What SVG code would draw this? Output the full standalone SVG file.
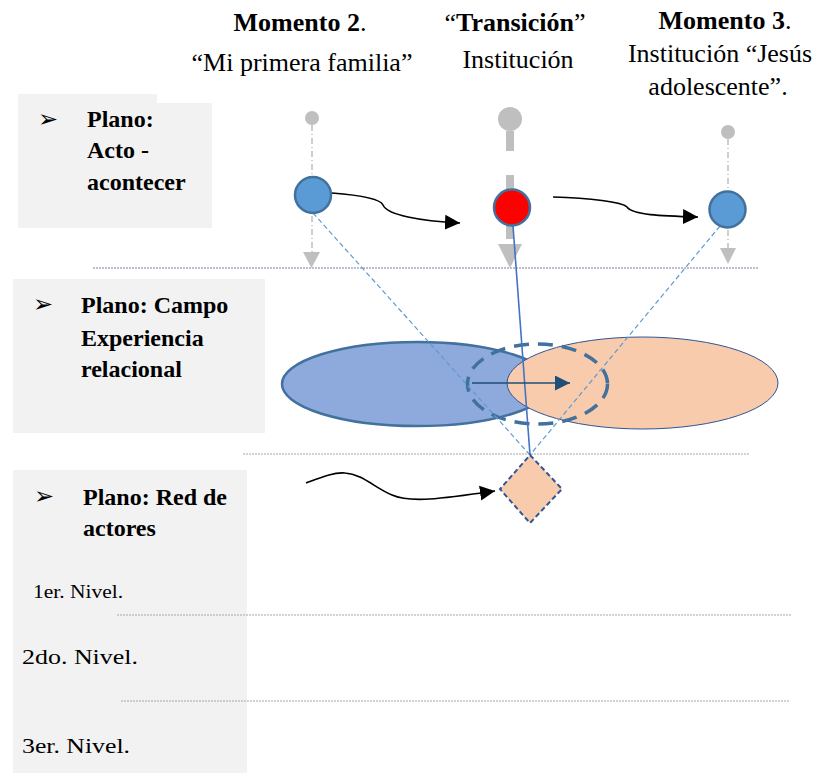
<svg xmlns="http://www.w3.org/2000/svg" width="818" height="775" viewBox="0 0 818 775">
<style>
.t{font-family:"Liberation Serif","Times New Roman",serif;fill:#000}
.b{font-weight:bold}
.title{font-size:26px;text-anchor:middle}
.lab{font-size:24px;font-weight:bold}
.bul{font-family:"DejaVu Sans",sans-serif;font-size:24px;fill:#000}
.box{fill:#F2F2F2}
.sep{stroke:#A6A6A6;stroke-width:1.2;stroke-dasharray:2,1;fill:none}
.gline{stroke:#BFBFBF;stroke-width:1.5;stroke-dasharray:6,3,1,3;fill:none}
.gfill{fill:#BFBFBF}
.node{fill:#5B9BD5;stroke:#41719C;stroke-width:2.5}
.curve{fill:none;stroke:#000;stroke-width:1.6}
.diag{fill:none;stroke:#5B9BD5;stroke-width:1.2;stroke-dasharray:5,3}
</style>
<defs>
<marker id="ah" viewBox="0 0 10 10" refX="10" refY="5" markerWidth="15" markerHeight="16" markerUnits="userSpaceOnUse" orient="auto">
<path d="M0,0 L10,5 L0,10 Z" fill="#000"/>
</marker>
<marker id="ahb" viewBox="0 0 10 10" refX="10" refY="5" markerWidth="16" markerHeight="15" markerUnits="userSpaceOnUse" orient="auto">
<path d="M0,0 L10,5 L0,10 Z" fill="#1F4E79"/>
</marker>
</defs>
<rect width="818" height="775" fill="#fff"/>

<g id="plane-boxes">
<path class="box" d="M18,94 H157 V103 H212 V228 H18 Z"/>
<rect class="box" x="13" y="279" width="252" height="154"/>
<rect class="box" x="13" y="470" width="234" height="303"/>
</g>

<g id="separators">
<line x1="93" y1="268" x2="758" y2="268" stroke="#7F7F9F" stroke-width="1.2" stroke-dasharray="2,1"/>
<line class="sep" x1="243" y1="454" x2="749" y2="454"/>
<line class="sep" x1="117" y1="615" x2="791" y2="615"/>
<line class="sep" x1="121" y1="701" x2="789" y2="701"/>
</g>

<g id="titles">
<text class="t title" x="300" y="31"><tspan class="b">Momento 2</tspan>.</text>
<text class="t title" x="302" y="71">“Mi primera familia”</text>
<text class="t title" x="515" y="31">“<tspan class="b">Transición</tspan>”</text>
<text class="t title" x="518" y="68">Institución</text>
<text class="t title" x="725" y="29"><tspan class="b">Momento 3</tspan>.</text>
<text class="t title" x="720" y="62">Institución “Jesús</text>
<text class="t title" x="718" y="95">adolescente”.</text>
</g>

<g id="plane-labels">
<text class="bul" x="38" y="127">➢</text>
<text class="t lab" x="87" y="127">Plano:</text>
<text class="t lab" x="87" y="158">Acto -</text>
<text class="t lab" x="87" y="190">acontecer</text>
<text class="bul" x="33" y="312">➢</text>
<text class="t lab" x="81" y="313">Plano: Campo</text>
<text class="t lab" x="81" y="346">Experiencia</text>
<text class="t lab" x="81" y="377">relacional</text>
<text class="bul" x="34" y="504">➢</text>
<text class="t lab" x="83" y="505">Plano: Red de</text>
<text class="t lab" x="83" y="536">actores</text>
<text class="t" x="33" y="598" font-size="18" textLength="90" lengthAdjust="spacingAndGlyphs">1er. Nivel.</text>
<text class="t" x="22" y="664" font-size="21" textLength="116" lengthAdjust="spacingAndGlyphs">2do. Nivel.</text>
<text class="t" x="22" y="753" font-size="21" textLength="108" lengthAdjust="spacingAndGlyphs">3er. Nivel.</text>
</g>

<g id="timelines">
<circle class="gfill" cx="312" cy="118" r="7"/>
<line class="gline" x1="312" y1="125" x2="312" y2="252"/>
<polygon class="gfill" points="303,252 320,252 311.5,268"/>
<circle class="gfill" cx="510" cy="119" r="12"/>
<line x1="510" y1="131" x2="510" y2="244" stroke="#BFBFBF" stroke-width="8" stroke-dasharray="20,24"/>
<polygon class="gfill" points="498,244 522,244 510,268"/>
<circle class="gfill" cx="728" cy="132" r="7"/>
<line class="gline" x1="728" y1="139" x2="728" y2="248"/>
<polygon class="gfill" points="720,248 736,248 728,264"/>
</g>

<g id="field-ellipses">
<ellipse id="ellipse-blue" cx="417" cy="384" rx="135" ry="42" fill="#8EA9DB" stroke="#41719C" stroke-width="2.5"/>
<ellipse id="ellipse-orange" cx="642.5" cy="383" rx="135.5" ry="46" fill="#F8CBAD" stroke="#2F5597" stroke-width="1"/>
<ellipse id="ellipse-dashed" cx="537.5" cy="384" rx="70" ry="40" fill="none" stroke="#41719C" stroke-width="3.5" stroke-dasharray="15,9"/>
</g>

<g id="connectors">
<line class="diag" x1="313" y1="213" x2="530" y2="455"/>
<line class="diag" x1="720" y1="226" x2="530" y2="455"/>
<line x1="513" y1="226" x2="530" y2="455" stroke="#4472C4" stroke-width="1.6"/>
<path class="curve" d="M332,193 C358,195 380,198 383,205 C387,215 420,221 460,223" marker-end="url(#ah)"/>
<path class="curve" d="M553,197 C590,198 622,202 627,207 C633,215 660,216 698,217" marker-end="url(#ah)"/>
<path class="curve" d="M306,483 C322,477 334,472 345,473 C362,474 375,488 392,495 C410,503 440,499 495,491" marker-end="url(#ah)"/>
<path d="M472,383 H570" stroke="#1F4E79" stroke-width="1.6" fill="none" marker-end="url(#ahb)"/>
</g>

<g id="moment2">
<circle class="node" cx="313" cy="195" r="18"/>
</g>
<g id="transition">
<circle cx="512" cy="207.5" r="18" fill="#FF0000" stroke="#41719C" stroke-width="2.5"/>
</g>
<g id="moment3">
<circle class="node" cx="727.5" cy="209.5" r="18"/>
</g>
<g id="actor-node">
<polygon points="530,455 562,489 530,523 500,489" fill="#F8CBAD" stroke="#2F5597" stroke-width="2" stroke-dasharray="5,3"/>
</g>
</svg>
